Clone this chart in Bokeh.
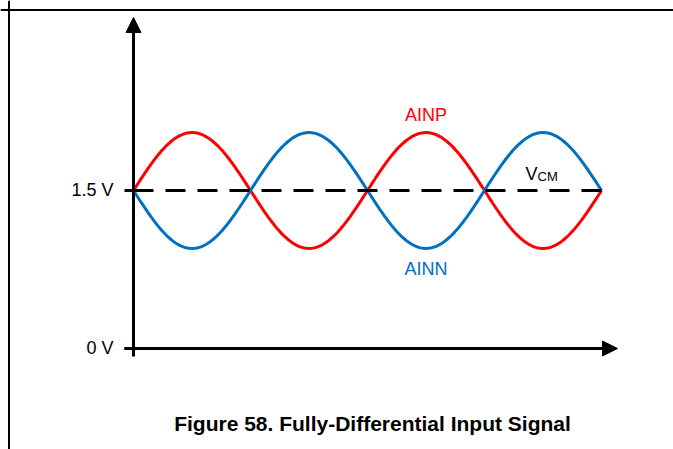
import numpy as np
from bokeh.plotting import figure
from bokeh.models import Range1d, Arrow, NormalHead, Span, Label
from bokeh.core.properties import value
from bokeh.embed import file_html
from bokeh.resources import INLINE

# ---- data ----
common_mode_v = 1.5          # V_CM level (V)
amplitude_v = 0.55           # peak deviation of AINP / AINN around V_CM (V)
n_cycles = 2                 # number of full periods shown
tick_values = [0.0, 1.5]
tick_labels = ["0 V", "1.5 V"]
series_names = ["AINP", "AINN"]
series_colors = ["#FF0000", "#0070C0"]
series_signs = [1, -1]
title_text = "Figure 58. Fully-Differential Input Signal"

# ---- pixel layout (page coordinates) ----
W, H = 673, 449
ORIGIN_X, ORIGIN_Y = 133.0, 348.0     # page pixel of (t=0, 0 V)
PX_PER_CYCLE = 234.0
PX_PER_VOLT = 158.0 / 1.5

def px_x(px):
    return (px - ORIGIN_X) / PX_PER_CYCLE

def px_y(py):
    return (ORIGIN_Y - py) / PX_PER_VOLT

p = figure(width=W, height=H, output_backend="svg", toolbar_location=None,
           x_range=Range1d(px_x(0), px_x(W)),
           y_range=Range1d(px_y(H), px_y(0)),
           min_border=0)
p.axis.visible = False
p.grid.visible = False
p.outline_line_color = None
p.background_fill_color = "white"

FONT = "Liberation Sans"

# page border (top and left)
p.add_layout(Span(location=px_x(8.5), dimension="height", line_color="black", line_width=2))
p.add_layout(Span(location=px_y(9.5), dimension="width", line_color="black", line_width=2))

# waves
t = np.linspace(0, n_cycles, 400)
for name, color, sign in zip(series_names, series_colors, series_signs):
    v = common_mode_v + sign * amplitude_v * np.sin(2 * np.pi * t)
    p.line(t, v, line_color=color, line_width=3)

# V_CM dashed line
p.line([0, n_cycles + px_x(ORIGIN_X + 6)], [common_mode_v, common_mode_v],
       line_color="black", line_width=3, line_dash="20 12")

# axes with arrows
tick_len = px_x(124) - 0.0
p.add_layout(Arrow(end=NormalHead(size=15, fill_color="black", line_color="black"),
                   x_start=0, y_start=px_y(356), x_end=0, y_end=px_y(17),
                   line_color="black", line_width=3))
p.add_layout(Arrow(end=NormalHead(size=15, fill_color="black", line_color="black"),
                   x_start=tick_len, y_start=0, x_end=px_x(617), y_end=0,
                   line_color="black", line_width=3))
# ticks and labels
p.segment(x0=[tick_len] * len(tick_values), y0=tick_values,
          x1=[0] * len(tick_values), y1=tick_values, line_color="black", line_width=3)
p.text(x=[tick_len] * len(tick_values), y=tick_values, text=tick_labels,
       text_align="right", text_baseline="middle", x_offset=-11, y_offset=-1,
       text_font=value(FONT), text_font_size="18px", text_color="black")

# series labels at the third half-cycle peak/trough
label_x = 1.25
p.text(x=[label_x], y=[common_mode_v + amplitude_v], text=[series_names[0]],
       text_align="center", text_baseline="alphabetic", y_offset=-18,
       text_font=value(FONT), text_font_size="18px", text_color=series_colors[0])
p.text(x=[label_x], y=[common_mode_v - amplitude_v], text=[series_names[1]],
       text_align="center", text_baseline="alphabetic", y_offset=21,
       text_font=value(FONT), text_font_size="18px", text_color=series_colors[1])

# V_CM label with subscript
vcm_x = px_x(525)
p.add_layout(Label(x=vcm_x, y=common_mode_v, text="V", x_offset=0, y_offset=16.5,
                   text_font=FONT, text_font_size="18px", text_color="black",
                   text_baseline="alphabetic"))
p.add_layout(Label(x=vcm_x, y=common_mode_v, text="CM", x_offset=12, y_offset=14,
                   text_font=FONT, text_font_size="13px", text_color="black",
                   text_baseline="alphabetic"))

# figure caption
p.add_layout(Label(x=px_x(372), y=px_y(422.5), text=title_text,
                   text_font=FONT, text_font_size="21px", text_font_style="bold",
                   text_color="black", text_align="center", text_baseline="alphabetic"))

open("out.html", "w").write(file_html(p, INLINE))
